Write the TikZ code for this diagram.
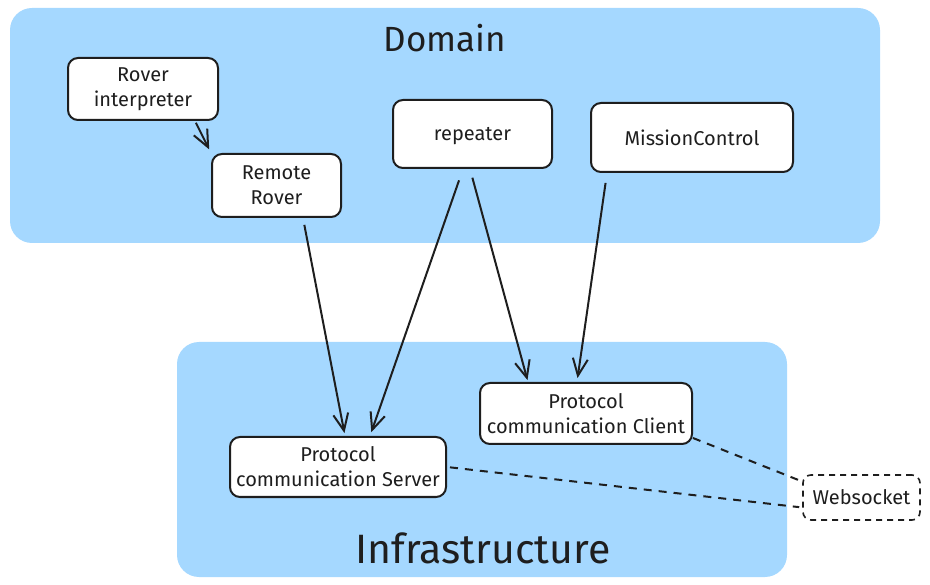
\documentclass[tikz,border=0pt]{standalone}
\usepackage{fontspec}
\setmainfont{Fira Sans}
\usetikzlibrary{arrows.meta}
\definecolor{zone}{HTML}{A5D8FF}
\definecolor{ink}{HTML}{1E1E1E}
\begin{document}
\begin{tikzpicture}[x=1pt,y=-1pt,
  zonebox/.style={fill=zone, draw=none, rounded corners=22pt},
  comp/.style={draw=ink, fill=white, line width=2pt, rounded corners=10pt, inner sep=0pt, align=center, font=\fontsize{20}{25}\selectfont, text=ink},
  title/.style={font=\fontsize{35}{40}\selectfont, text=ink},
  link/.style={draw=ink, line width=2pt, -{Straight Barb[length=17pt,width=15pt]}},
  wire/.style={draw=ink, line width=2pt, dash pattern=on 8pt off 7pt}]
\useasboundingbox (0,0) rectangle (930,585);
\fill[zonebox] (10,8) rectangle (880,243);
\fill[zonebox] (177,342) rectangle (787,577);
\node[title] (dom) at (445,38) {Domain};
\node[title, font=\fontsize{41}{44}\selectfont] (inf) at (483,548) {Infrastructure};

\node[comp, minimum width=150pt, minimum height=62pt] (ri) at (143,89) {Rover\\interpreter};
\node[comp, minimum width=129pt, minimum height=63pt] (rr) at (276.5,185.5) {Remote\\Rover};
\node[comp, text depth=0pt, minimum width=159pt, minimum height=68pt] (rep) at (472.5,134) {repeater};
\node[comp, minimum width=202pt, minimum height=69pt] (mc) at (692,137.5) {MissionControl};
\node[comp, minimum width=216pt, minimum height=60pt] (srv) at (338,467) {Protocol\\communication Server};
\node[comp, minimum width=212pt, minimum height=61pt] (cli) at (586,413.5) {Protocol\\communication Client};
\node[comp, dashed, dash pattern=on 6pt off 5pt, rounded corners=8pt, line width=1.6pt, minimum width=117pt, minimum height=45pt] (ws) at (861.5,497.5) {Websocket};

\draw[link, shorten <=2pt, shorten >=4pt] ([xshift=52pt]ri.south) -- (rr.north west);
\draw[link, shorten <=7pt, shorten >=3pt] ([xshift=26.5pt]rr.south) -- ([xshift=7pt]srv.north);
\draw[link, shorten <=12pt, shorten >=4pt] ([xshift=-9.5pt]rep.south) -- ([xshift=32pt]srv.north);
\draw[link, shorten <=9pt, shorten >=2pt] ([xshift=-2.5pt]rep.south) -- ([xshift=-58pt]cli.north);
\draw[link, shorten <=10pt, shorten >=4pt] ([xshift=-85pt]mc.south) -- ([xshift=-9pt]cli.north);

\draw[wire, shorten >=3pt] ([yshift=7pt]cli.south east) -- ([yshift=16pt]ws.west);
\draw[wire, shorten <=3pt, shorten >=3pt] (srv.east) -- ([yshift=-10pt]ws.west);
\end{tikzpicture}
\end{document}
